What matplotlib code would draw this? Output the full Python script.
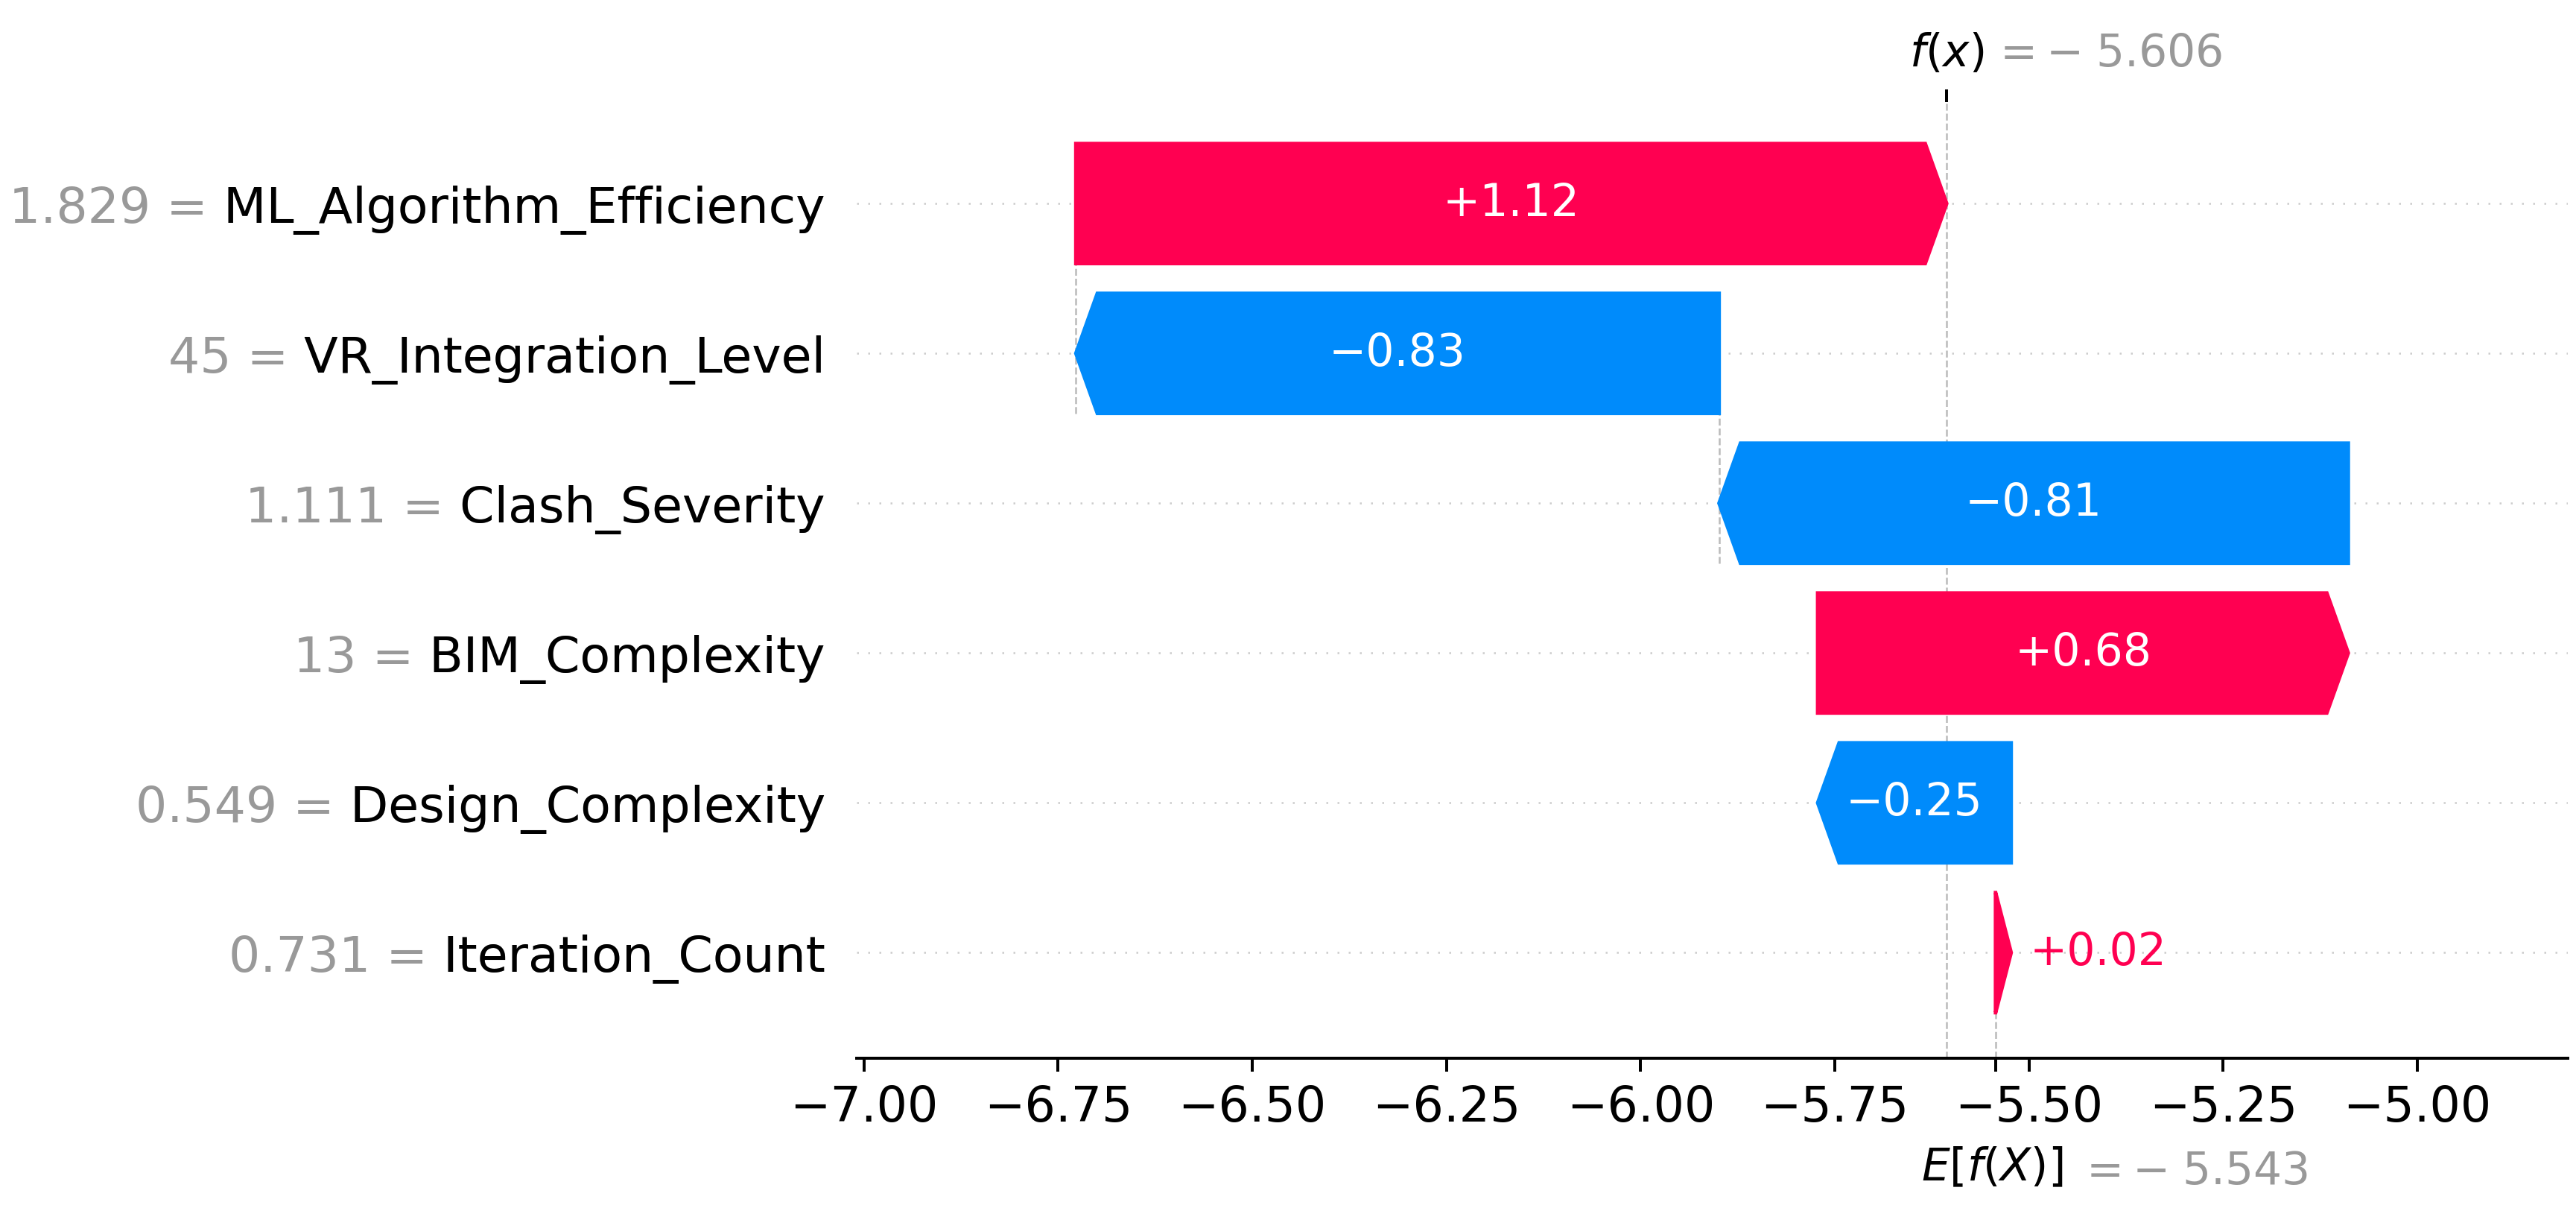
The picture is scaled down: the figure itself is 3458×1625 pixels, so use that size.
import re
import numpy as np
import matplotlib
matplotlib.use('Agg')
import matplotlib.pyplot as plt
import matplotlib.transforms as mtransforms
from matplotlib.ticker import MultipleLocator

# waterfall data, top row first
feature_names = ['ML_Algorithm_Efficiency', 'VR_Integration_Level', 'Clash_Severity',
                 'BIM_Complexity', 'Design_Complexity', 'Iteration_Count']
feature_values = [1.829, 45, 1.111, 13, 0.549, 0.731]
shap_values = [1.121, -0.828, -0.810, 0.683, -0.249, 0.020]
base_value = -5.543

RED = (1.0, 0.0, 0.3176)
BLUE = (0.0, 0.5451, 0.9843)


def format_value(v, fmt):
    s = fmt % v
    s = re.sub(r'\.?0+$', '', s)
    if s[0] == '-':
        s = '\u2212' + s[1:]
    return s


def math_value(v):
    # "= − 5.606" with the minus spaced like a binary operator
    s = format_value(v, '%0.03f')
    if s[0] == '\u2212':
        s = '\u2212\\;' + s[1:]
    return '$ = ' + s + '$'


DPI = 360
fig = plt.figure(figsize=(3458.4 / DPI, 1625.4 / DPI), dpi=DPI)
ax = fig.add_axes([0.3326, 0.1262, 0.6642, 0.7895])
ax.set_xlim(-7.009, -4.806)
ax.set_ylim(-0.704, 5.679)

num_features = len(shap_values)
rng = list(range(num_features - 1, -1, -1))
fx = base_value + sum(shap_values)

# cumulative positions (walk down from f(x))
loc = fx
lefts = []
for i, sval in enumerate(shap_values):
    loc -= sval
    lefts.append(loc)
    if i + 4 < num_features:
        ax.plot([loc, loc], [rng[i] - 1 - 0.4, rng[i] + 0.4],
                color='#bbbbbb', linestyle='--', linewidth=0.5, zorder=-1)

head_length = 0.08
bar_width = 0.8
xmin, xmax = ax.get_xlim()
bbox = ax.get_window_extent().transformed(fig.dpi_scale_trans.inverted())
bbox_to_xscale = (xmax - xmin) / bbox.width
hl_scaled = bbox_to_xscale * head_length
renderer = fig.canvas.get_renderer()

for i, sval in enumerate(shap_values):
    y = rng[i]
    left = lefts[i]
    if sval >= 0:
        col = RED
        arr = ax.arrow(left, y, max(sval - hl_scaled, 1e-6), 0,
                       head_length=min(sval, hl_scaled), color=col,
                       width=bar_width, head_width=bar_width)
    else:
        col = BLUE
        arr = ax.arrow(left, y, -max(-sval - hl_scaled, 1e-6), 0,
                       head_length=min(-sval, hl_scaled), color=col,
                       width=bar_width, head_width=bar_width)
    label = format_value(sval, '%+0.02f')
    txt = ax.text(left + 0.5 * sval, y, label, ha='center', va='center',
                  color='white', fontsize=12)
    if txt.get_window_extent(renderer=renderer).width > arr.get_window_extent(renderer=renderer).width:
        txt.remove()
        if sval >= 0:
            ax.text(left + sval + (5 / 72) * bbox_to_xscale, y, label,
                    ha='left', va='center', color=col, fontsize=12)
        else:
            ax.text(left + sval - (5 / 72) * bbox_to_xscale, y, label,
                    ha='right', va='center', color=col, fontsize=12)

# y labels: gray "value = name", then black name on top
yticklabels = [''] * num_features
for i in range(num_features):
    yticklabels[rng[i]] = format_value(float(feature_values[i]), '%0.03f') + ' = ' + feature_names[i]
ytick_pos = list(range(num_features)) + list(np.arange(num_features) + 1e-8)
ax.set_yticks(ytick_pos, yticklabels + [lab.split('=')[-1] for lab in yticklabels])
ax.tick_params(labelsize=13)
ax.tick_params(axis='y', length=0, pad=8.5, labelsize=13.3)
for i, t in enumerate(ax.yaxis.get_majorticklabels()):
    if i < num_features:
        t.set_color('#999999')

for i in range(num_features):
    ax.axhline(i, color='#cccccc', lw=0.5, dashes=(1, 5), zorder=-1)

ax.axvline(base_value, 0, 1 / num_features, color='#bbbbbb', linestyle='--', linewidth=0.5, zorder=-1)
ax.axvline(fx, 0, 1, color='#bbbbbb', linestyle='--', linewidth=0.5, zorder=-1)

ax.xaxis.set_major_locator(MultipleLocator(0.25))
ax.xaxis.set_ticks_position('bottom')
for s in ['right', 'top', 'left']:
    ax.spines[s].set_visible(False)

# E[f(X)] tick below the axis
ax2 = ax.twiny()
ax2.set_xlim(xmin, xmax)
ax2.xaxis.tick_bottom()
ax2.set_xticks([base_value, base_value + 1e-8])
ax2.set_xticklabels(['\n$E[f(X)]$', '\n' + math_value(base_value)], fontsize=12, ha='left')
for s in ['right', 'top', 'left']:
    ax2.spines[s].set_visible(False)
tl = ax2.xaxis.get_majorticklabels()
tl[0].set_transform(tl[0].get_transform() + mtransforms.ScaledTranslation(-20 / 72., -3 / 72., fig.dpi_scale_trans))
tl[1].set_transform(tl[1].get_transform() + mtransforms.ScaledTranslation(22 / 72., -4 / 72., fig.dpi_scale_trans))
tl[1].set_color('#999999')

# f(x) tick on top
ax3 = ax.twiny()
ax3.set_xlim(xmin, xmax)
ax3.set_xticks([fx, fx + 1e-8])
ax3.set_xticklabels(['$f(x)$', math_value(fx)], fontsize=12, ha='left')
tl = ax3.xaxis.get_majorticklabels()
tl[0].set_transform(tl[0].get_transform() + mtransforms.ScaledTranslation(-10 / 72., 0, fig.dpi_scale_trans))
tl[1].set_transform(tl[1].get_transform() + mtransforms.ScaledTranslation(12 / 72., 0, fig.dpi_scale_trans))
tl[1].set_color('#999999')
for s in ['right', 'top', 'left']:
    ax3.spines[s].set_visible(False)

fig.savefig('out.png', dpi=DPI)
